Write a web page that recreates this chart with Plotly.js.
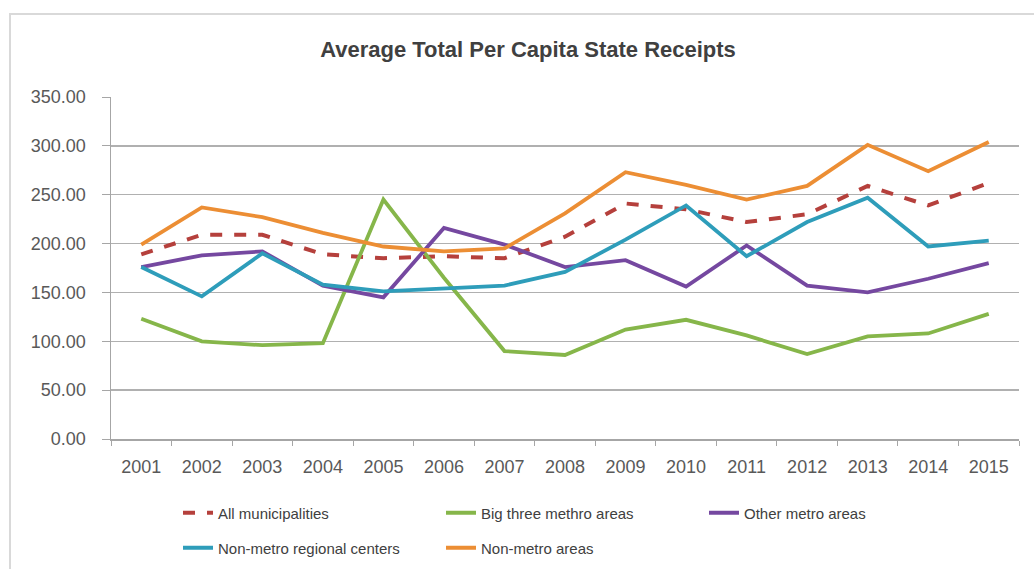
<!DOCTYPE html>
<html>
<head>
<meta charset="utf-8">
<script src="https://cdn.plot.ly/plotly-3.0.1.min.js"></script>
<style>
html, body { margin: 0; padding: 0; background: #ffffff; }
#chart { width: 1034px; height: 569px; }
</style>
</head>
<body>
<div id="chart"></div>
<script>
var years = ["2001","2002","2003","2004","2005","2006","2007","2008","2009","2010","2011","2012","2013","2014","2015"];
var allMunicipalities = [189, 209, 209, 189, 185, 187, 185, 207, 241, 235, 222, 230, 259, 239, 262];
var bigThreeMetro = [123, 100, 96, 98, 245, 165, 90, 86, 112, 122, 106, 87, 105, 108, 128];
var otherMetro = [176, 188, 192, 157, 145, 216, 199, 176, 183, 156, 198, 157, 150, 164, 180];
var nonMetroRegional = [176, 146, 190, 158, 151, 154, 157, 171, 204, 239, 187, 222, 247, 197, 203];
var nonMetroAreas = [199, 237, 227, 211, 197, 192, 195, 231, 273, 260, 245, 259, 301, 274, 304];
var seriesNames = ["All municipalities", "Big three methro areas", "Other metro areas", "Non-metro regional centers", "Non-metro areas"];

var W = 3.8;
var traces = [
  {x: years, y: allMunicipalities, name: seriesNames[0], mode: "lines", line: {color: "#B5403C", width: 4, dash: "dash"}, legend: "legend"},
  {x: years, y: bigThreeMetro, name: seriesNames[1], mode: "lines", line: {color: "#86B64A", width: W}, legend: "legend"},
  {x: years, y: otherMetro, name: seriesNames[2], mode: "lines", line: {color: "#7548A0", width: W}, legend: "legend"},
  {x: years, y: nonMetroRegional, name: seriesNames[3], mode: "lines", line: {color: "#2E9DBA", width: W}, legend: "legend2"},
  {x: years, y: nonMetroAreas, name: seriesNames[4], mode: "lines", line: {color: "#EC8E34", width: W}, legend: "legend2"}
];

var fontFam = "Liberation Sans, Arial, sans-serif";
var legendCommon = {
  orientation: "h", xanchor: "left", yanchor: "middle",
  xref: "container", yref: "container",
  font: {family: fontFam, size: 15, color: "#404040"},
  entrywidth: 218, entrywidthmode: "pixels",
  bgcolor: "rgba(0,0,0,0)", borderwidth: 0
};
var l1 = Object.assign({}, legendCommon, {x: 178 / 1034, y: 1 - 513 / 569});
var l2 = Object.assign({}, legendCommon, {x: 178 / 1034, y: 1 - 548 / 569});

var layout = {
  width: 1034, height: 569,
  paper_bgcolor: "#ffffff", plot_bgcolor: "#ffffff",
  margin: {l: 111, r: 15, t: 97, b: 130, autoexpand: false},
  title: {
    text: "<b>Average Total Per Capita State Receipts</b>",
    x: 528 / 1034, xref: "container", xanchor: "center",
    y: 1 - 49 / 569, yref: "container", yanchor: "middle",
    font: {family: fontFam, size: 22, color: "#404040"}
  },
  xaxis: {
    type: "category", range: [-0.5, 14.5],
    tickson: "boundaries", ticks: "outside", ticklen: 5, tickcolor: "#A6A6A6",
    ticklabelstandoff: 11,
    showline: true, linecolor: "#A6A6A6", linewidth: 1.5,
    showgrid: false, zeroline: false,
    tickfont: {family: fontFam, size: 18, color: "#595959"}
  },
  yaxis: {
    range: [0, 350], dtick: 50, tick0: 0, tickformat: ".2f",
    ticks: "outside", ticklen: 8, tickcolor: "#A6A6A6",
    ticklabelstandoff: 12,
    showline: true, linecolor: "#A6A6A6", linewidth: 1.5,
    showgrid: true, gridcolor: "#B0B0B0", gridwidth: 1.5, zeroline: false,
    tickfont: {family: fontFam, size: 18, color: "#595959"}
  },
  showlegend: true,
  legend: l1,
  legend2: l2,
  shapes: [{
    type: "rect", xref: "paper", yref: "paper",
    x0: (10 - 111) / 908, x1: (1045 - 111) / 908,
    y0: (439 - 580) / 342, y1: (439 - 14) / 342,
    line: {color: "#D9D9D9", width: 2}, fillcolor: "rgba(0,0,0,0)", layer: "below"
  }]
};

Plotly.newPlot("chart", traces, layout, {displayModeBar: false, staticPlot: true});
</script>
</body>
</html>
